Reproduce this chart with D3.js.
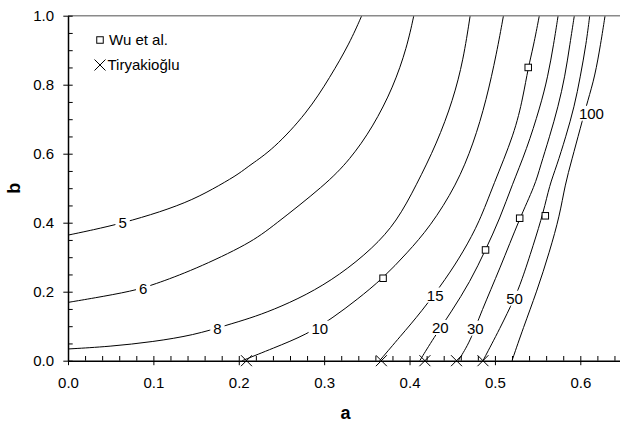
<!DOCTYPE html>
<html>
<head>
  <meta charset="utf-8">
  <title>Contours of a and b</title>
  <script src="https://d3js.org/d3.v7.min.js"></script>
  <style>
    body { margin: 0; background: #fff; }
    svg { display: block; font-family: "Liberation Sans", Arial, sans-serif; }
  </style>
</head>
<body>
  <div id="chart"></div>
  <script>
    // contour lines as [a, b] pairs
    const curve5 = [[0,0.364],[0.029,0.379],[0.064,0.399],[0.108,0.431],[0.146,0.466],[0.178,0.509],[0.201,0.543],[0.213,0.567],[0.240,0.612],[0.280,0.718],[0.307,0.822],[0.330,0.921],[0.344,1.0]];
    const curve6 = [[0,0.169],[0.029,0.181],[0.076,0.202],[0.100,0.220],[0.147,0.263],[0.213,0.340],[0.240,0.390],[0.301,0.509],[0.330,0.582],[0.357,0.677],[0.381,0.793],[0.397,0.909],[0.405,1.0]];
    const curve8 = [[0,0.034],[0.049,0.041],[0.100,0.055],[0.147,0.074],[0.186,0.103],[0.213,0.123],[0.240,0.147],[0.279,0.190],[0.318,0.248],[0.357,0.326],[0.385,0.403],[0.408,0.509],[0.432,0.630],[0.451,0.756],[0.463,0.872],[0.471,1.0]];
    const curve10 = [[0.204,0],[0.240,0.036],[0.280,0.076],[0.311,0.126],[0.338,0.176],[0.369,0.239],[0.397,0.312],[0.424,0.388],[0.455,0.509],[0.475,0.630],[0.490,0.756],[0.502,0.891],[0.510,1.0]];
    const curve15 = [[0.365,0],[0.389,0.070],[0.414,0.142],[0.443,0.239],[0.463,0.316],[0.482,0.403],[0.498,0.509],[0.523,0.659],[0.533,0.765],[0.539,0.850],[0.545,0.910],[0.552,1.0]];
    const curve20 = [[0.412,0],[0.428,0.065],[0.449,0.142],[0.471,0.229],[0.489,0.321],[0.506,0.413],[0.520,0.509],[0.537,0.611],[0.553,0.736],[0.562,0.823],[0.569,0.920],[0.574,1.0]];
    const curve30 = [[0.457,0],[0.471,0.055],[0.484,0.142],[0.506,0.268],[0.529,0.413],[0.547,0.509],[0.553,0.562],[0.564,0.649],[0.574,0.736],[0.582,0.823],[0.588,0.920],[0.593,1.0]];
    const curve50 = [[0.486,0],[0.506,0.094],[0.523,0.181],[0.531,0.229],[0.545,0.335],[0.557,0.432],[0.564,0.509],[0.572,0.562],[0.583,0.649],[0.593,0.736],[0.600,0.823],[0.607,0.920],[0.611,1.0]];
    const curve100 = [[0.520,0],[0.533,0.094],[0.549,0.200],[0.564,0.316],[0.576,0.422],[0.582,0.509],[0.590,0.582],[0.600,0.674],[0.609,0.756],[0.617,0.823],[0.624,0.920],[0.629,1.0]];

    const curveNames = ["5", "6", "8", "10", "15", "20", "30", "50", "100"];
    const curveLines = [curve5, curve6, curve8, curve10, curve15, curve20, curve30, curve50, curve100];
    // where each number sits, [a, b]
    const labelSpots = [[0.064,0.399],[0.088,0.208],[0.175,0.094],[0.295,0.094],[0.430,0.190],[0.436,0.096],[0.477,0.094],[0.523,0.181],[0.613,0.717]];

    // measured points
    const wuA = [0.369, 0.489, 0.529, 0.559, 0.539];
    const wuB = [0.239, 0.321, 0.413, 0.420, 0.850];
    const tirA = [0.209, 0.367, 0.418, 0.455, 0.486];
    const tirB = [0, 0, 0, 0, 0];

    const xTicks = [0, 0.1, 0.2, 0.3, 0.4, 0.5, 0.6];
    const yTicks = [0, 0.2, 0.4, 0.6, 0.8, 1.0];

    const width = 620, height = 422;
    const plotLeft = 68, plotRight = 623, plotTop = 15.7, plotBottom = 360.7;
    const font = '"Liberation Sans", Arial, sans-serif';

    const svg = d3.select("#chart").append("svg")
      .attr("width", width)
      .attr("height", height);

    const x = d3.scaleLinear().domain([0, 0.65]).range([plotLeft, plotRight]);
    const y = d3.scaleLinear().domain([0, 1]).range([plotBottom, plotTop]);

    svg.append("clipPath").attr("id", "plot")
      .append("rect")
      .attr("x", plotLeft).attr("y", plotTop)
      .attr("width", plotRight - plotLeft).attr("height", plotBottom - plotTop);

    // contour lines
    const line = d3.line()
      .x(d => x(d[0]))
      .y(d => y(d[1]))
      .curve(d3.curveBasis);

    svg.append("g")
      .attr("clip-path", "url(#plot)")
      .selectAll("path")
      .data(curveLines)
      .join("path")
      .attr("d", line)
      .attr("fill", "none")
      .attr("stroke", "#000")
      .attr("stroke-width", 1);

    // contour numbers with a white patch under them
    const labels = svg.append("g");
    curveNames.forEach((name, i) => {
      const g = labels.append("g");
      const t = g.append("text")
        .attr("x", x(labelSpots[i][0]))
        .attr("y", y(labelSpots[i][1]))
        .attr("dy", "0.36em")
        .attr("text-anchor", "middle")
        .attr("font-family", font)
        .attr("font-size", 15)
        .text(name);
      const bb = t.node().getBBox();
      g.insert("rect", "text")
        .attr("x", bb.x - 3).attr("y", bb.y + 1)
        .attr("width", bb.width + 6).attr("height", bb.height - 2)
        .attr("fill", "#fff");
    });

    // top frame line
    svg.append("line")
      .attr("x1", plotLeft).attr("x2", plotRight)
      .attr("y1", plotTop).attr("y2", plotTop)
      .attr("stroke", "#8a8a8a")
      .attr("stroke-width", 1.6);

    // x axis: labelled major ticks crossing the line, minor ticks inside
    const xAxis = svg.append("g")
      .attr("transform", `translate(0,${plotBottom})`)
      .call(d3.axisBottom(x).tickValues(xTicks).tickFormat(d3.format(".1f"))
        .tickSizeInner(4.5).tickSizeOuter(0).tickPadding(12.5));
    svg.append("g")
      .attr("transform", `translate(0,${plotBottom})`)
      .call(d3.axisTop(x).tickValues(d3.range(0, 33).map(i => i * 0.02))
        .tickFormat("").tickSizeInner(4.7).tickSizeOuter(0))
      .select(".domain").remove();

    // y axis: major ticks outside, minor ticks inside
    const yAxis = svg.append("g")
      .attr("transform", `translate(${plotLeft},0)`)
      .call(d3.axisLeft(y).tickValues(yTicks).tickFormat(d3.format(".1f"))
        .tickSizeInner(4.7).tickSizeOuter(0).tickPadding(9.3));
    svg.append("g")
      .attr("transform", `translate(${plotLeft},0)`)
      .call(d3.axisRight(y).tickValues(d3.range(0, 21).map(i => i * 0.05))
        .tickFormat("").tickSizeInner(4.7).tickSizeOuter(0))
      .select(".domain").remove();

    svg.selectAll(".tick line").attr("stroke", "#000").attr("stroke-width", 1);
    [xAxis, yAxis].forEach(a => {
      a.attr("font-family", font).attr("font-size", 15);
      a.select(".domain").attr("stroke", "#000").attr("stroke-width", 1.5);
      a.selectAll("text").attr("fill", "#000");
    });

    // axis titles
    svg.append("text")
      .attr("x", x(0.325)).attr("y", 419)
      .attr("text-anchor", "middle")
      .attr("font-family", font).attr("font-size", 18).attr("font-weight", "bold")
      .text("a");
    svg.append("text")
      .attr("transform", `translate(20,${y(0.5)}) rotate(-90)`)
      .attr("text-anchor", "middle")
      .attr("font-family", font).attr("font-size", 18).attr("font-weight", "bold")
      .text("b");

    // Wu et al. squares
    const sq = 6.5;
    svg.append("g").selectAll("rect")
      .data(wuA.map((a, i) => [a, wuB[i]]))
      .join("rect")
      .attr("x", d => x(d[0]) - sq / 2)
      .attr("y", d => y(d[1]) - sq / 2)
      .attr("width", sq).attr("height", sq)
      .attr("fill", "#fff").attr("stroke", "#000").attr("stroke-width", 1);

    // Tiryakioglu crosses
    const cr = 5.5;
    const crossPath = (cx, cy) => `M${cx - cr},${cy - cr}L${cx + cr},${cy + cr}M${cx - cr},${cy + cr}L${cx + cr},${cy - cr}`;
    svg.append("g").selectAll("path")
      .data(tirA.map((a, i) => [a, tirB[i]]))
      .join("path")
      .attr("d", d => crossPath(x(d[0]), y(d[1])))
      .attr("fill", "none").attr("stroke", "#000").attr("stroke-width", 1);

    // legend
    svg.append("rect")
      .attr("x", 100 - sq / 2).attr("y", 40 - sq / 2)
      .attr("width", sq).attr("height", sq)
      .attr("fill", "#fff").attr("stroke", "#000").attr("stroke-width", 1);
    svg.append("text")
      .attr("x", 109).attr("y", 40).attr("dy", "0.36em")
      .attr("font-family", font).attr("font-size", 15)
      .text("Wu et al.");
    svg.append("path")
      .attr("d", crossPath(100, 65))
      .attr("fill", "none").attr("stroke", "#000").attr("stroke-width", 1);
    svg.append("text")
      .attr("x", 107.5).attr("y", 65).attr("dy", "0.36em")
      .attr("font-family", font).attr("font-size", 15)
      .text("Tiryakioğlu");
  </script>
</body>
</html>
